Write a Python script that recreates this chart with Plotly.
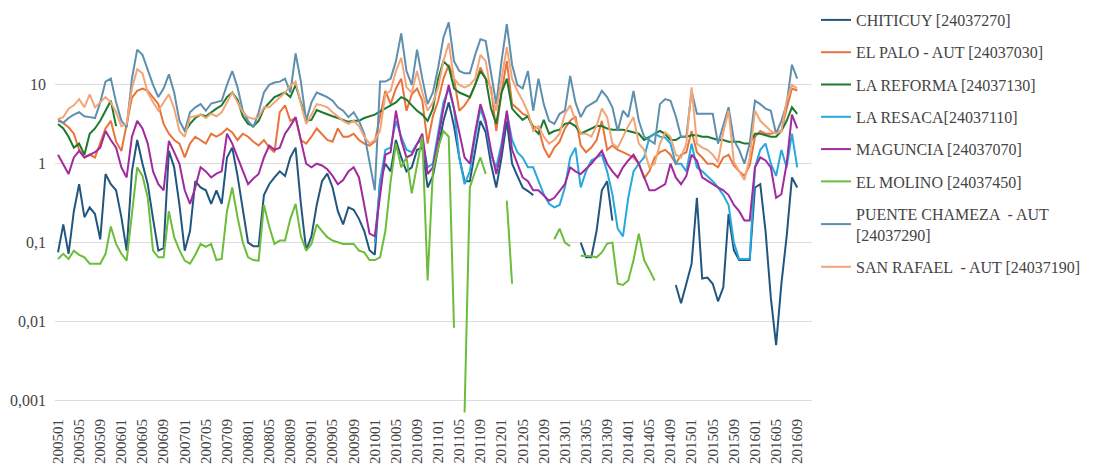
import plotly.graph_objects as go

N = None
months = [f"{y}{m:02d}" for y in range(2005, 2017) for m in range(1, 13)][:141]
tick_labels = months[::4]

y_tick_vals = [0.001, 0.01, 0.1, 1, 10]
y_tick_text = ["0,001", "0,01", "0,1", "1", "10"]

chiticuy = [0.075, 0.17, 0.072, 0.25, 0.55, 0.21, 0.28, 0.23, 0.11, 0.74, 0.55, 0.46,
            0.21, 0.079, 0.8, 2.0, 1.0, 0.55, 0.2, 0.079, 0.085, 1.46, 0.9, 0.3,
            0.079, 0.14, 0.6, 0.5, 0.46, 0.31, 0.46, 0.31, 1.2, 1.6, 0.7, 0.28,
            0.1, 0.09, 0.09, 0.4, 0.55, 0.67, 0.8, 0.7, 1.2, 1.6, 0.31, 0.08,
            0.12, 0.3, 0.6, 0.75, 0.5, 0.25, 0.17, 0.28, 0.26, 0.2, 0.14, 0.08,
            0.07, 0.6, 1.0, 0.8, 2.0, 1.2, 0.8, 0.9, 1.5, 1.6, 0.5, 0.7,
            1.5, 3.5, 6.0, 3.0, 1.2, 0.6, 0.6, 1.5, 3.5, 2.5, 1.0, 0.5,
            1.2, 3.5, 1.0, 0.7, 0.5, 0.45, 0.4, N, N, N, N, N,
            N, N, N, 0.1, 0.065, 0.065, 0.14, 0.46, 0.6, 0.19, N, N,
            N, N, N, N, N, N, N, N, N, 0.029, 0.017, 0.03,
            0.054, 0.37, 0.035, 0.036, 0.03, 0.018, 0.027, 0.23, 0.08, 0.06, 0.06, 0.06,
            0.5, 0.55, 0.14, 0.02, 0.005, 0.03, 0.12, 0.67, 0.5]

el_palo = [3.7, 3.3, 2.9, 2.4, 1.5, 1.2, 1.3, 1.2, 1.8, 2.8, 3.5, 1.9,
           1.45, 3.2, 6.9, 8.4, 9.0, 8.4, 7.0, 5.7, 3.2, 2.4, 2.0, 1.8,
           1.2, 1.8, 2.2, 2.0, 1.8, 2.4, 2.2, 2.4, 2.8, 2.5, 2.0, 2.4,
           2.2, 1.9, 1.7, 2.0, 1.6, 1.4, 4.5, 5.5, 3.5, 3.8, 2.0, 1.8,
           2.2, 2.8, 2.4, 2.0, 1.9, 2.8, 2.2, 2.2, 2.4, 2.0, 1.8, 1.7,
           1.9, 4.0, 8.4, 5.7, 9.0, 12, 4.7, 7.6, 9.0, 6.3, 1.8, 4.0,
           6.3, 12, 18, 12, 4.7, 5.5, 6.9, 10, 16.6, 12, 9.3, 2.6,
           8.0, 20, 5.7, 5.0, 4.3, 4.0, 3.0, 2.8, 1.6, 1.2, 1.6, 1.9,
           2.8, 3.5, 4.0, 1.7, 1.4, 1.6, 2.0, 3.5, 1.5, 1.7, 1.5, 1.4,
           1.3, 1.2, 1.0, 0.65, 0.8, 1.2, 1.4, 1.5, 1.3, 1.0, 1.3, 1.4,
           2.6, 1.4, 1.2, 1.0, 1.0, 0.9, 1.2, 1.3, 0.95, 0.8, 0.7, 0.95,
           2.2, 2.6, 2.4, 2.4, 2.5, 2.6, 5.0, 9.0, 8.5]

la_reforma = [3.2, 2.8, 2.2, 1.6, 1.8, 1.3, 2.4, 2.8, 3.5, 4.7, 6.3, 3.0,
              N, N, N, N, N, N, N, N, N, N, N, N,
              2.5, 3.2, 3.8, 4.2, 4.0, 4.5, 5.0, 5.5, 7.0, 8.0, 6.5, 4.0,
              3.2, 3.0, 3.5, 5.0, 6.0, 7.0, 7.5, 8.0, 7.0, 10, 6.0, 3.5,
              3.6, 4.8, 4.5, 4.2, 4.0, 3.8, 3.6, 3.4, 3.5, 3.5, 3.8, 4.0,
              4.2, 4.6, 5.0, 5.5, 6.0, 7.0, 6.5, 5.5, 4.7, 4.2, 3.5, 5.0,
              12, 20, 17, 9.0, 8.0, 7.5, 7.0, 10, 15, 12, 5.0, 3.2,
              8.0, 12, 5.0, 4.2, 3.6, 4.0, 2.8, 2.4, 3.6, 2.4, 2.6, 2.7,
              3.2, 3.3, 3.0, 2.4, 2.6, 2.8, 3.0, 3.0, 2.8, 2.7, 2.7, 2.7,
              2.6, 2.5, 2.4, 2.0, 2.2, 2.4, 2.6, 2.4, 2.0, 2.0, 2.2, 2.2,
              2.3, 2.3, 2.2, 2.2, 2.1, 2.0, 2.0, 1.9, 1.9, 1.9, 1.8, 1.8,
              2.4, 2.4, 2.3, 2.2, 2.2, 2.6, 3.5, 5.2, 4.3]

la_resaca = [N] * 60 + [
             0.1, 0.6, 1.5, 1.6, 3.5, 2.2, 1.5, 1.4, 1.8, 2.0, 0.9, 1.0,
             2.5, 6.0, 9.0, 5.0, 1.2, 0.55, 0.8, 2.2, 5.0, 3.2, 1.3, 0.9,
             1.8, 4.5, 2.0, 1.4, 1.2, 0.9, 0.9, 0.6, 0.41, 0.31, 0.28, 0.3,
             0.5, 1.2, 1.6, 0.5, 0.8, 1.1, 1.2, 1.3, 0.8, 0.41, 0.15, 0.12,
             0.37, 0.8, 1.0, 1.2, 2.15, 2.4, 2.2, 2.15, 1.8, 1.0, 1.0, 0.8,
             1.8, 0.9, 0.8, 0.7, 0.6, 0.5, 0.4, 0.3, 0.1, 0.062, 0.062, 0.062,
             0.9, 1.5, 1.8, 1.0, 0.7, 1.5, 0.9, 2.4, 0.9]

maguncia = [1.3, 1.0, 0.74, 1.2, 1.46, 1.2, 1.3, 1.4, 1.6, 2.6, 2.0, 1.6,
            0.9, 0.67, 2.2, 3.5, 2.8, 1.8, 0.8, 0.55, 0.46, 1.95, 1.4, 1.0,
            0.46, 0.31, 0.5, 0.9, 0.8, 0.67, 0.75, 0.8, 2.4, 1.8, 1.2, 0.8,
            0.55, 0.65, 0.74, 1.2, 1.7, 1.5, 1.6, 2.4, 3.0, 3.9, 2.0, 1.0,
            0.9, 1.0, 0.95, 0.85, 0.7, 0.55, 0.62, 0.8, 0.9, 0.67, 0.3, 0.13,
            0.12, 0.38, 1.3, 1.4, 4.7, 2.0, 1.2, 1.3, 1.8, 2.4, 0.74, 0.9,
            2.1, 5.0, 10, 5.2, 2.5, 1.2, 1.0, 2.5, 5.7, 3.5, 1.5, 0.74,
            1.5, 4.7, 1.5, 1.0, 0.67, 0.6, 0.46, 0.46, 0.4, 0.34, 0.37, 0.45,
            0.55, 0.9, 0.8, 0.74, 0.85, 1.0, 1.2, 1.46, 1.0, 0.8, 0.67, 0.9,
            1.1, 1.3, 1.0, 0.67, 0.46, 0.46, 0.5, 0.55, 1.0, 0.67, 0.55, 0.7,
            1.3, 1.1, 0.67, 0.6, 0.55, 0.5, 0.46, 0.4, 0.3, 0.25, 0.19, 0.19,
            0.9, 1.2, 1.1, 0.9, 0.37, 0.41, 1.0, 4.2, 2.8]

el_molino = [0.062, 0.072, 0.062, 0.079, 0.07, 0.065, 0.054, 0.054, 0.054, 0.072, 0.16, 0.096,
             0.072, 0.059, 0.25, 0.9, 0.7, 0.37, 0.079, 0.065, 0.065, 0.25, 0.117, 0.08,
             0.059, 0.054, 0.07, 0.096, 0.088, 0.096, 0.06, 0.062, 0.25, 0.5, 0.21, 0.1,
             0.065, 0.06, 0.059, 0.3, 0.16, 0.096, 0.106, 0.106, 0.2, 0.31, 0.12, 0.079,
             0.096, 0.17, 0.14, 0.117, 0.106, 0.1, 0.096, 0.096, 0.096, 0.079, 0.075, 0.06,
             0.06, 0.065, 0.14, 0.6, 1.8, 0.9, 1.2, 0.42, 1.0, 2.2, 0.033, 0.8,
             1.6, 2.6, 2.2, 0.0083, N, 0.0007, 0.5, 0.8, 1.2, 0.74, N, N,
             N, 0.34, 0.03, N, N, N, N, N, N, N, 0.11, 0.15,
             0.1, 0.09, N, 0.068, 0.068, 0.067, 0.065, 0.075, 0.097, 0.1, 0.03, 0.029,
             0.033, 0.06, 0.13, 0.06, 0.045, 0.033, N, N, N, N, N, N,
             N, N, N, N, N, N, N, N, N, N, N, N,
             N, N, N, N, N, N, N, N, N]

puente_chameza = [3.5, 3.3, 3.8, 4.2, 4.5, 4.0, 3.9, 3.8, 6.0, 11, 12, 6.0,
                  3.5, 2.9, 12, 28, 24, 15, 10, 7.0, 9.0, 13.6, 8.0, 3.5,
                  2.6, 4.5, 5.2, 5.7, 4.7, 5.8, 6.0, 6.3, 10, 15, 9.3, 4.7,
                  3.5, 2.9, 4.5, 8.0, 10, 10.7, 11, 12, 8.0, 25, 11, 3.5,
                  6.0, 8.0, 7.5, 7.0, 6.3, 5.2, 4.7, 3.9, 4.5, 3.5, 2.4, 1.0,
                  0.46, 11, 11, 12, 20, 45, 15, 10, 28, 12, 5.7, 8.0,
                  16.6, 40, 62, 20, 15, 14, 14, 24, 38, 36, 15, 5.7,
                  20, 59, 18, 10, 9.0, 15, 4.7, 12, 5.7, 3.5, 3.2, 4.3,
                  4.7, 13, 6.0, 3.9, 5.2, 5.8, 6.3, 8.4, 7.0, 5.2, 2.6, 4.7,
                  3.9, 8.4, 3.5, 2.2, 2.0, 1.8, 5.7, 6.6, 6.3, 4.0, 2.2, 2.2,
                  8.4, 4.3, 4.3, 4.3, 4.3, 1.8, 3.0, 5.2, 2.0, 1.5, 1.0, 1.8,
                  6.3, 5.7, 5.0, 4.7, 2.4, 3.5, 5.7, 18, 12]

san_rafael = [3.7, 3.9, 5.0, 5.5, 6.6, 5.2, 7.6, 5.2, 6.0, 7.0, 6.0, 4.5,
              3.0, 3.2, 9.0, 15.8, 14, 8.0, 6.0, 4.7, 6.0, 7.6, 5.0, 2.6,
              2.2, 3.9, 4.0, 4.2, 3.8, 4.3, 4.0, 4.5, 6.0, 8.0, 6.0, 4.5,
              3.9, 3.7, 3.9, 5.2, 5.2, 6.0, 7.0, 8.0, 9.7, 11, 5.7, 3.2,
              4.2, 5.7, 5.5, 5.2, 4.5, 4.0, 3.5, 3.2, 3.5, 3.0, 2.2, 1.8,
              2.0, 2.6, 7.6, 8.4, 15, 22, 9.3, 8.0, 15, 8.0, 4.7, 6.0,
              9.3, 20, 34, 12, 10, 9.3, 10, 12, 24, 20, 8.0, 4.7,
              12, 30, 12, 8.4, 6.3, 4.5, 2.6, 3.0, 2.2, 1.8, 2.0, 2.4,
              4.3, 5.5, 3.5, 2.4, 2.4, 2.2, 3.0, 5.0, 3.9, 1.8, 1.6, 2.2,
              3.0, 3.9, 1.8, 1.5, 0.9, 1.0, 1.8, 2.5, 2.2, 1.3, 1.2, 1.8,
              9.3, 1.8, 1.6, 1.5, 1.3, 1.05, 2.5, 4.7, 1.05, 0.8, 0.62, 1.2,
              4.7, 3.5, 3.0, 2.6, 2.4, 2.6, 6.3, 10, 9.0]

series = [
    ("CHITICUY [24037270]", chiticuy, "#23567f"),
    ("EL PALO - AUT [24037030]", el_palo, "#e8743b"),
    ("LA REFORMA [24037130]", la_reforma, "#1b7a2e"),
    ("LA RESACA[24037110]", la_resaca, "#27a8df"),
    ("MAGUNCIA [24037070]", maguncia, "#a02a9e"),
    ("EL MOLINO [24037450]", el_molino, "#6cbd3a"),
    ("PUENTE CHAMEZA  - AUT<br>[24037290]", puente_chameza, "#5f8fae"),
    ("SAN RAFAEL  - AUT [24037190]", san_rafael, "#f2a678"),
]

for name, vals, _ in series:
    if len(vals) != len(months):
        print("length mismatch", name, len(vals))

fig = go.Figure()
for k, (name, vals, color) in enumerate(series):
    fig.add_trace(go.Scatter(
        x=months, y=vals, name=name, mode="lines",
        line=dict(color=color, width=2),
        legendgroup=f"g{k}", connectgaps=False,
    ))

font_family = "Liberation Serif, Times New Roman, serif"
fig.update_layout(
    width=1094, height=475,
    margin=dict(l=55, r=282, t=11, b=60),
    paper_bgcolor="white", plot_bgcolor="white",
    font=dict(family=font_family, size=16, color="#444"),
    showlegend=True,
    legend=dict(xref="container", yref="container",
                x=816 / 1094, y=1 - 3 / 475, xanchor="left", yanchor="top",
                maxheight=460,
                font=dict(family=font_family, size=16, color="#444"),
                tracegroupgap=8.5, bgcolor="rgba(0,0,0,0)"),
    xaxis=dict(type="category", range=[-0.57, 142.8], automargin=False,
               tickmode="array", tickvals=tick_labels, ticktext=tick_labels,
               tickangle=-90, showgrid=False, zeroline=False, showline=False,
               ticks="", tickfont=dict(family=font_family, size=15, color="#444")),
    yaxis=dict(type="log", range=[-3.187, 1.937], automargin=False,
               tickmode="array", tickvals=y_tick_vals, ticktext=y_tick_text,
               showgrid=True, gridcolor="#dcdcdc", gridwidth=1,
               zeroline=False, showline=False, ticks="",
               ticklabelstandoff=8,
               tickfont=dict(family=font_family, size=16, color="#444")),
)

fig.write_html("out.html",
               config={"displayModeBar": False},
               post_script="document.body.style.margin='0';document.body.style.padding='0';")
